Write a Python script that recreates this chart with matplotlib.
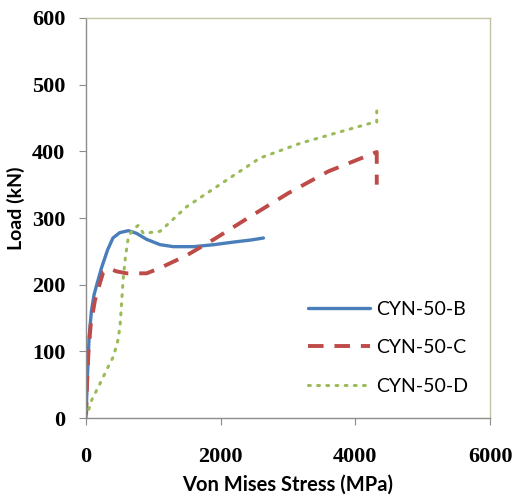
import matplotlib.pyplot as plt
import numpy as np

# CYN-50-B
b_x = [0, 20, 45, 80, 120, 160, 230, 320, 400, 500, 630, 750, 900, 1100, 1300, 1600, 1900, 2200, 2450, 2635]
b_y = [0, 60, 120, 160, 185, 200, 225, 252, 270, 278, 281, 277, 268, 260, 257, 257, 260, 264, 267, 270]

# CYN-50-C
c_x = [0, 15, 35, 70, 134, 200, 257, 357, 450, 605, 900, 1100, 1496, 1900, 2437, 3000, 3600, 4318, 4318]
c_y = [0, 50, 97, 140, 177, 200, 219, 224, 220, 217, 217, 225, 244, 268, 302, 337, 370, 399, 350]

# CYN-50-D
d_x = [0, 85, 200, 320, 406, 470, 505, 530, 555, 590, 630, 700, 777, 851, 1100, 1496, 2090, 2585, 3180, 3800, 4220, 4318, 4318]
d_y = [0, 27, 50, 75, 92, 115, 137, 175, 212, 245, 272, 283, 289, 277, 280, 317, 357, 390, 412, 430, 442, 444, 468]

labels = ['CYN-50-B', 'CYN-50-C', 'CYN-50-D']

fig = plt.figure(figsize=(5.17, 4.98), dpi=100)
ax = fig.add_axes([86/517, 1 - 418/498, 404/517, 400/498])

ax.plot(b_x, b_y, color='#4a7ebb', lw=2.4, solid_capstyle='round', label=labels[0])
ax.plot(c_x, c_y, color='#be4b48', lw=2.8, dashes=(4.0, 2.8), label=labels[1])
ax.plot(d_x, d_y, color='#9bbb59', lw=2.2, dashes=(0.6, 2.4), dash_capstyle='round', label=labels[2])

ax.set_xlim(0, 6000)
ax.set_ylim(0, 600)
ax.set_xticks([0, 2000, 4000, 6000])
ax.set_yticks(range(0, 601, 100))

for s in ['left', 'bottom']:
    ax.spines[s].set_color('#8c8c8c')
for s in ['top', 'right']:
    ax.spines[s].set_color('#c4c4a4')
for s in ax.spines.values():
    s.set_linewidth(1.0)

ax.tick_params(axis='x', direction='out', length=5, color='#8c8c8c', pad=16)
ax.tick_params(axis='y', direction='out', length=5, color='#8c8c8c', pad=10)
for t in ax.get_xticklabels() + ax.get_yticklabels():
    t.set_fontfamily('Liberation Serif')
    t.set_fontweight('bold')
    t.set_fontsize(16)

ax.set_xlabel('Von Mises Stress (MPa)', fontfamily='Lato', fontweight='bold', fontsize=14.5)
ax.set_ylabel('Load (kN)', fontfamily='Lato', fontweight='bold', fontsize=14)
ax.xaxis.set_label_coords(0.5, -0.142)
ax.yaxis.set_label_coords(-0.151, 0.525)

leg = ax.legend(loc='lower left', bbox_to_anchor=(0.506, 0.015), frameon=False,
                prop={'family': 'Lato', 'size': 14}, handlelength=3.2,
                labelspacing=1.1, handletextpad=0.3)

fig.savefig('out.png', dpi=100)
